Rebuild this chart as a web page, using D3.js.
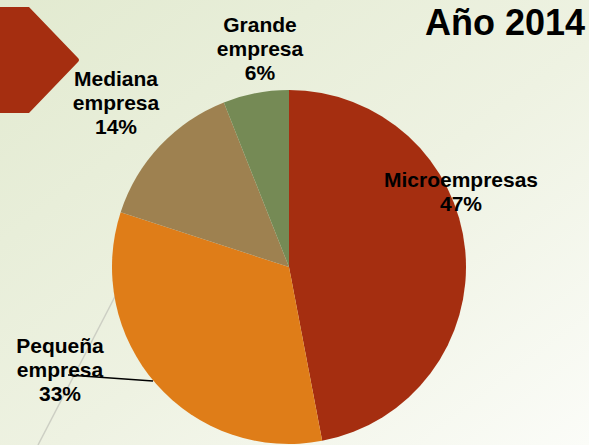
<!DOCTYPE html>
<html>
<head>
<meta charset="utf-8">
<script src="https://cdn.jsdelivr.net/npm/d3@7"></script>
<style>
  html, body { margin: 0; padding: 0; }
  svg { display: block; }
  text { font-family: "Liberation Sans", Arial, sans-serif; font-weight: bold; fill: #000; }
</style>
</head>
<body>
<svg id="chart"></svg>
<script>
// data
var categories = ["Microempresas", "Pequeña empresa", "Mediana empresa", "Grande empresa"];
var values = [47, 33, 14, 6];
var colors = ["#a52e10", "#df7d18", "#9e8150", "#758a55"];
var title = "Año 2014";

// label placement (center x, first baseline y) in pixels
var labelLines = [["Microempresas"], ["Pequeña", "empresa"], ["Mediana", "empresa"], ["Grande", "empresa"]];
var labelPos = [[461, 187], [60, 353], [116, 86], [260, 32]];

var width = 589, height = 445;
var cx = 289, cy = 267, radius = 177;

var svg = d3.select("#chart")
  .attr("width", width)
  .attr("height", height);

var defs = svg.append("defs");
var grad = defs.append("linearGradient")
  .attr("id", "bg")
  .attr("x1", "0%").attr("y1", "0%")
  .attr("x2", "100%").attr("y2", "100%");
grad.append("stop").attr("offset", "0%").attr("stop-color", "#e2ead0");
grad.append("stop").attr("offset", "55%").attr("stop-color", "#eef2e2");
grad.append("stop").attr("offset", "100%").attr("stop-color", "#fbfcf8");

svg.append("rect")
  .attr("width", width)
  .attr("height", height)
  .attr("fill", "url(#bg)");

// faint decorative line
svg.append("line")
  .attr("x1", 38).attr("y1", 445)
  .attr("x2", 135).attr("y2", 258)
  .style("stroke", "#cdcfc4")
  .style("stroke-width", 1.5);

// red arrow decoration
svg.append("path")
  .attr("d", "M0,7 L29,7 L78,58 Q80,60 78,62 L29,113 L0,113 Z")
  .attr("fill", "#a52e10");

var pie = d3.pie().sort(null).value(function(d) { return d; });
var arc = d3.arc().innerRadius(0).outerRadius(radius);

var g = svg.append("g")
  .attr("transform", "translate(" + cx + "," + cy + ")");

g.selectAll("path.slice")
  .data(pie(values))
  .enter().append("path")
  .attr("class", "slice")
  .attr("d", arc)
  .attr("fill", function(d, i) { return colors[i]; });

// leader line for Pequeña empresa
svg.append("line")
  .attr("x1", 68).attr("y1", 375)
  .attr("x2", 153).attr("y2", 381)
  .style("stroke", "#000")
  .style("stroke-width", 1.5);

// labels
var fontSize = 21, lineH = 24;
categories.forEach(function(c, i) {
  var t = svg.append("text")
    .attr("text-anchor", "middle")
    .style("font-size", fontSize + "px");
  var lines = labelLines[i].concat([values[i] + "%"]);
  lines.forEach(function(l, j) {
    t.append("tspan")
      .attr("x", labelPos[i][0])
      .attr("y", labelPos[i][1] + j * lineH)
      .text(l);
  });
});

svg.append("text")
  .attr("x", 585)
  .attr("y", 35)
  .attr("text-anchor", "end")
  .style("font-size", "36px")
  .text(title);
</script>
</body>
</html>
